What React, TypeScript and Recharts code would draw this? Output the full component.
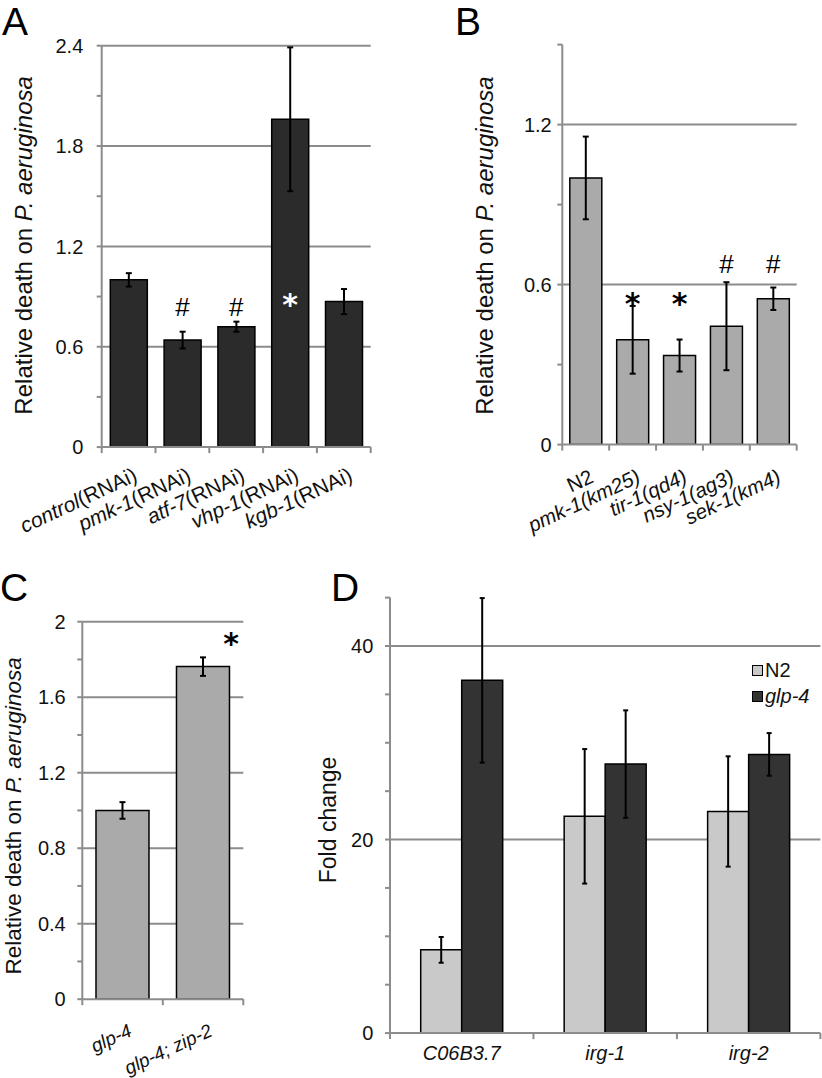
import React from 'react';
import {
  BarChart,
  Bar,
  XAxis,
  YAxis,
  CartesianGrid,
  ErrorBar,
  ReferenceDot,
  Legend,
  Label
} from 'recharts';

const FONT = '"Liberation Sans", Arial, Helvetica, sans-serif';
const GRID = '#8c8c8c';
const INK = '#111';

// Panel A - RNAi knockdowns
const catsA = ['control(RNAi)', 'pmk-1(RNAi)', 'atf-7(RNAi)', 'vhp-1(RNAi)', 'kgb-1(RNAi)'];
const deathA = [1.0, 0.64, 0.72, 1.96, 0.87];
const semA = [0.04, 0.05, 0.03, 0.43, 0.075];
const ticksA = [0, 0.3, 0.6, 0.9, 1.2, 1.5, 1.8, 2.1, 2.4];
const gridA = [0.6, 1.2, 1.8, 2.4];
const marksA = [
  { cat: 'pmk-1(RNAi)', text: '#', y: 0.842 },
  { cat: 'atf-7(RNAi)', text: '#', y: 0.842 },
  { cat: 'vhp-1(RNAi)', text: '*', y: 0.89, color: '#fff' }
];

// Panel B - mutants
const catsB = ['N2', 'pmk-1(km25)', 'tir-1(qd4)', 'nsy-1(ag3)', 'sek-1(km4)'];
const deathB = [1.0, 0.393, 0.334, 0.444, 0.547];
const semB = [0.155, 0.127, 0.06, 0.165, 0.042];
const ticksB = [0, 0.3, 0.6, 0.9, 1.2, 1.5];
const gridB = [0.6, 1.2];
const marksB = [
  { cat: 'pmk-1(km25)', text: '*', y: 0.551 },
  { cat: 'tir-1(qd4)', text: '*', y: 0.551 },
  { cat: 'nsy-1(ag3)', text: '#', y: 0.68 },
  { cat: 'sek-1(km4)', text: '#', y: 0.68 }
];

// Panel C - glp-4 background
const catsC = ['glp-4', 'glp-4; zip-2'];
const deathC = [1.0, 1.762];
const semC = [0.044, 0.049];
const ticksC = [0, 0.2, 0.4, 0.6, 0.8, 1.0, 1.2, 1.4, 1.6, 1.8, 2];
const gridC = [0.4, 0.8, 1.2, 1.6, 2];
const marksC = [{ cat: 'glp-4; zip-2', text: '*', y: 1.915, dx: 28 }];

// Panel D - qRT-PCR fold change
const genesD = ['C06B3.7', 'irg-1', 'irg-2'];
const foldN2 = [8.6, 22.4, 22.9];
const semN2 = [1.33, 6.95, 5.7];
const foldGlp4 = [36.45, 27.8, 28.8];
const semGlp4 = [8.5, 5.55, 2.2];
const ticksD = [0, 5, 10, 15, 20, 25, 30, 35, 40, 45];
const gridD = [20, 40];

const rows = (cats: string[], vals: number[], errs: number[]) =>
  cats.map((name, i) => ({ name, value: vals[i], err: errs[i] }));

const rowsD = genesD.map((name, i) => ({
  name,
  n2: foldN2[i],
  n2Err: semN2[i],
  glp4: foldGlp4[i],
  glp4Err: semGlp4[i]
}));

// gene names italic, N2 and "(RNAi)" upright
const labelParts = (s: string) => {
  if (s === 'N2') return [{ t: s, it: false }];
  const m = s.match(/^(.*?)(\(RNAi\))$/);
  if (m) return [{ t: m[1], it: true }, { t: m[2], it: false }];
  return [{ t: s, it: true }];
};

// Excel-style tick marks sit on the category boundaries, not the centres
const BoundaryTicks = ({ x, y, half, last }: any) => {
  if (!Number.isFinite(half)) return null;
  const xs = last ? [x - half, x + half] : [x - half];
  return (
    <>
      {xs.map((bx, i) => (
        <line key={i} x1={bx} y1={y} x2={bx} y2={y + 6} stroke={GRID} strokeWidth={2} />
      ))}
    </>
  );
};

const SlantTick = ({ x, y, payload, fs, ox, oy, ang, lastCat }: any) => {
  const px = x + ox;
  const py = y + oy;
  return (
    <g>
      <BoundaryTicks x={x} y={y} half={payload.offset} last={payload.value === lastCat} />
      <text
        x={px}
        y={py}
        textAnchor="end"
        fontSize={fs}
        fontFamily={FONT}
        fill={INK}
        transform={`rotate(${ang}, ${px}, ${py})`}
      >
        {labelParts(payload.value).map((p, i) => (
          <tspan key={i} fontStyle={p.it ? 'italic' : 'normal'}>{p.t}</tspan>
        ))}
      </text>
    </g>
  );
};

const YTitle = ({ viewBox, bx, dy, fs, italic }: any) => {
  const x = viewBox.x + bx;
  const y = viewBox.y + viewBox.height / 2 + dy;
  return (
    <text
      x={x}
      y={y}
      transform={`rotate(-90, ${x}, ${y})`}
      textAnchor="middle"
      fontSize={fs}
      fontFamily={FONT}
      fill={INK}
    >
      {italic ? (
        <>
          Relative death on <tspan fontStyle="italic">P. aeruginosa</tspan>
        </>
      ) : (
        'Fold change'
      )}
    </text>
  );
};

const Mark = ({ viewBox, text, color, dx = 0 }: any) => {
  const star = text === '*';
  const fs = star ? 30 : 26;
  const cx = viewBox.x + viewBox.width / 2 + dx;
  const cy = viewBox.y + viewBox.height / 2;
  return (
    <text
      x={cx}
      y={cy}
      dy={star ? fs * 0.55 : fs * 0.36}
      textAnchor="middle"
      fontSize={fs}
      fontWeight={star ? 'bold' : 'normal'}
      fontFamily={star ? '"DejaVu Sans", sans-serif' : FONT}
      fill={color || '#000'}
    >
      {text}
    </text>
  );
};

const tickFmt = (labels: number[]) => (v: number) => (labels.includes(v) ? String(v) : '');

interface PanelProps {
  cats: string[];
  vals: number[];
  errs: number[];
  ticks: number[];
  grid: number[];
  marks: { cat: string; text: string; y: number; color?: string; dx?: number }[];
  fill: string;
  width: number;
  height: number;
  top: number;
  right: number;
  axisW: number;
  tickGap: number;
  titleX: number;
  titleDy: number;
  titleFs: number;
  labelFs: number;
  labelOff: [number, number];
  gap: string;
}

const Panel: React.FC<PanelProps> = (p) => {
  const data = rows(p.cats, p.vals, p.errs);
  const lastCat = p.cats[p.cats.length - 1];
  return (
    <BarChart
      width={p.width}
      height={p.height}
      data={data}
      margin={{ top: p.top, right: p.right, bottom: 0, left: 0 }}
      barCategoryGap={p.gap}
      style={{ fontFamily: FONT }}
    >
      <CartesianGrid vertical={false} horizontalValues={p.grid} stroke={GRID} strokeWidth={2} />
      <XAxis
        dataKey="name"
        type="category"
        interval={0}
        height={p.height - p.bottomY}
        axisLine={{ stroke: GRID, strokeWidth: 2 }}
        tickLine={false}
        tickSize={0}
        tickMargin={0}
        tick={(t: any) => (
          <SlantTick
            {...t}
            fs={p.labelFs}
            ox={p.labelOff[0]}
            oy={p.labelOff[1]}
            ang={-25}
            lastCat={lastCat}
          />
        )}
      />
      <YAxis
        domain={[0, p.ticks[p.ticks.length - 1]]}
        ticks={p.ticks}
        interval={0}
        allowDataOverflow
        width={p.axisW}
        tickSize={5}
        tickMargin={p.tickGap - 5}
        tickFormatter={tickFmt([0, ...p.grid])}
        tick={{ fill: INK, fontSize: 20, fontFamily: FONT }}
        axisLine={{ stroke: GRID, strokeWidth: 2 }}
        tickLine={{ stroke: GRID, strokeWidth: 2 }}
      >
        <Label
          content={(lp: any) => (
            <YTitle {...lp} bx={p.titleX} dy={p.titleDy} fs={p.titleFs} italic />
          )}
        />
      </YAxis>
      <Bar dataKey="value" fill={p.fill} stroke="#000" strokeWidth={1.5} isAnimationActive={false}>
        <ErrorBar dataKey="err" width={3} stroke="#000" strokeWidth={2} />
      </Bar>
      {p.marks.map((m) => (
        <ReferenceDot
          key={m.cat}
          x={m.cat}
          y={m.y}
          r={0}
          fill="none"
          stroke="none"
          ifOverflow="visible"
          label={(lp: any) => <Mark {...lp} text={m.text} color={m.color} dx={m.dx} />}
        />
      ))}
    </BarChart>
  );
};

const LegendD = ({ payload }: any) => (
  <div style={{ fontFamily: FONT, fontSize: 20, lineHeight: '26px', color: INK }}>
    {(payload || []).map((e: any) => (
      <div key={e.value} style={{ display: 'flex', alignItems: 'center' }}>
        <span
          style={{
            display: 'inline-block',
            width: 9,
            height: 9,
            background: e.color,
            border: '1px solid #000',
            marginRight: 2
          }}
        />
        <span style={{ fontStyle: e.value === 'glp-4' ? 'italic' : 'normal' }}>{e.value}</span>
      </div>
    ))}
  </div>
);

const PanelD: React.FC = () => {
  const lastGene = genesD[genesD.length - 1];
  return (
    <BarChart
      width={532}
      height={538}
      data={rowsD}
      margin={{ top: 57.6, right: 1.6, bottom: 0, left: 0 }}
      barCategoryGap="21.4%"
      barGap={0}
      style={{ fontFamily: FONT }}
    >
      <CartesianGrid vertical={false} horizontalValues={gridD} stroke={GRID} strokeWidth={2} />
      <XAxis
        dataKey="name"
        type="category"
        interval={0}
        height={44.9}
        axisLine={{ stroke: GRID, strokeWidth: 2 }}
        tickLine={false}
        tickSize={0}
        tickMargin={0}
        tick={(t: any) => (
          <g>
            <BoundaryTicks
              x={t.x}
              y={t.y}
              half={t.payload.offset}
              last={t.payload.value === lastGene}
            />
            <text
              x={t.x}
              y={t.y + 27}
              textAnchor="middle"
              fontSize={20}
              fontStyle="italic"
              fontFamily={FONT}
              fill={INK}
            >
              {t.payload.value}
            </text>
          </g>
        )}
      />
      <YAxis
        domain={[0, 45]}
        ticks={ticksD}
        interval={0}
        allowDataOverflow
        width={100}
        tickSize={5}
        tickMargin={11.7}
        tickFormatter={tickFmt([0, ...gridD])}
        tick={{ fill: INK, fontSize: 20, fontFamily: FONT }}
        axisLine={{ stroke: GRID, strokeWidth: 2 }}
        tickLine={{ stroke: GRID, strokeWidth: 2 }}
      >
        <Label content={(lp: any) => <YTitle {...lp} bx={46.5} dy={4.6} fs={23} />} />
      </YAxis>
      <Legend
        layout="vertical"
        align="center"
        verticalAlign="middle"
        content={<LegendD />}
        wrapperStyle={{ left: 462, top: 117, width: 'auto', height: 'auto' }}
      />
      <Bar dataKey="n2" name="N2" fill="#c9c9c9" stroke="#000" strokeWidth={1.5} isAnimationActive={false}>
        <ErrorBar dataKey="n2Err" width={2.5} stroke="#000" strokeWidth={2} />
      </Bar>
      <Bar dataKey="glp4" name="glp-4" fill="#333333" stroke="#000" strokeWidth={1.5} isAnimationActive={false}>
        <ErrorBar dataKey="glp4Err" width={2.5} stroke="#000" strokeWidth={2} />
      </Bar>
    </BarChart>
  );
};

const letter = (ch: string, left: number, top: number) => (
  <div
    style={{
      position: 'absolute',
      left,
      top,
      fontFamily: FONT,
      fontSize: 39,
      lineHeight: '39px',
      color: '#000'
    }}
  >
    {ch}
  </div>
);

const box = (left: number, top: number, child: React.ReactNode) => (
  <div style={{ position: 'absolute', left, top }}>{child}</div>
);

export default function App() {
  return (
    <div
      style={{
        position: 'absolute',
        left: 0,
        top: 0,
        width: 822,
        height: 1078,
        background: '#fff',
        overflow: 'hidden'
      }}
    >
      {box(
        0,
        0,
        <Panel
          cats={catsA}
          vals={deathA}
          errs={semA}
          ticks={ticksA}
          grid={gridA}
          marks={marksA}
          fill="#2b2b2b"
          width={390}
          height={540}
          top={45.7}
          right={19.3}
          bottomY={447.1}
          axisW={101.7}
          tickGap={18.4}
          titleX={32}
          titleDy={-1}
          titleFs={24}
          labelFs={21}
          labelOff={[10, 33]}
          gap="16%"
        />
      )}
      {box(
        400,
        0,
        <Panel
          cats={catsB}
          vals={deathB}
          errs={semB}
          ticks={ticksB}
          grid={gridB}
          marks={marksB}
          fill="#aaaaaa"
          width={422}
          height={540}
          top={44.6}
          right={25.3}
          bottomY={444.6}
          axisW={162.3}
          tickGap={10.6}
          titleX={93}
          titleDy={1}
          titleFs={24}
          labelFs={20.5}
          labelOff={[9, 37]}
          gap="16%"
        />
      )}
      {box(
        0,
        540,
        <Panel
          cats={catsC}
          vals={deathC}
          errs={semC}
          ticks={ticksC}
          grid={gridC}
          marks={marksC}
          fill="#aaaaaa"
          width={290}
          height={538}
          top={81.7}
          right={46.7}
          bottomY={459.2}
          axisW={82.3}
          tickGap={16.6}
          titleX={21.5}
          titleDy={5.5}
          titleFs={22.5}
          labelFs={19}
          labelOff={[10.5, 36]}
          gap="17%"
        />
      )}
      {box(290, 540, <PanelD />)}
      {letter('A', 2, 2)}
      {letter('B', 455, 2)}
      {letter('C', 0, 568)}
      {letter('D', 331, 568)}
    </div>
  );
}
